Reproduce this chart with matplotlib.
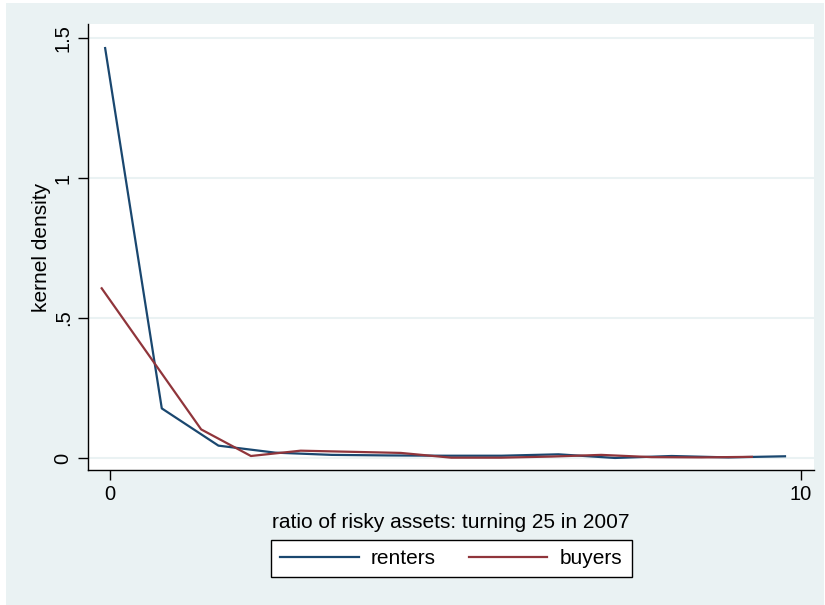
import matplotlib
matplotlib.use("Agg")
import matplotlib.pyplot as plt
from matplotlib.patches import Rectangle

plt.rcParams['font.family'] = ['Liberation Sans', 'DejaVu Sans']

# kernel density estimates of the risky-asset ratio
renters_x = [-0.07, 0.75, 1.57, 2.39, 3.21, 4.03, 4.85, 5.67, 6.49, 7.31, 8.13, 8.95, 9.77]
renters_y = [1.464, 0.177, 0.044, 0.019, 0.011, 0.009, 0.008, 0.008, 0.013, 0.000, 0.007, 0.002, 0.006]

buyers_x = [-0.12, 0.60, 1.32, 2.04, 2.76, 3.49, 4.21, 4.94, 5.66, 6.39, 7.11, 7.84, 8.56, 9.29]
buyers_y = [0.606, 0.354, 0.102, 0.007, 0.026, 0.022, 0.018, 0.001, 0.001, 0.005, 0.011, 0.003, 0.002, 0.004]

y_ticks = [0, 0.5, 1, 1.5]
y_tick_labels = ["0", ".5", "1", "1.5"]
x_ticks = [0, 10]
x_tick_labels = ["0", "10"]

BG = "#EAF2F3"
BLUE = "#1A476F"
RED = "#90353B"

W, H = 825, 605
fig = plt.figure(figsize=(W / 100, H / 100), dpi=100, facecolor="white")
fig.patches.append(Rectangle((6 / W, 0), (824 - 6) / W, (H - 3) / H,
                             transform=fig.transFigure, facecolor=BG,
                             edgecolor="none", zorder=-10))

ax = fig.add_axes([88 / W, 1 - 470 / H, (814 - 88) / W, (470 - 24) / H])
ax.set_facecolor("white")

ax.plot(renters_x, renters_y, color=BLUE, lw=1.6, label="renters")
ax.plot(buyers_x, buyers_y, color=RED, lw=1.6, label="buyers")

ax.set_xlim(-0.318, 10.19)
ax.set_ylim(-0.043, 1.55)

ax.set_yticks(y_ticks)
ax.set_yticklabels(y_tick_labels, rotation=90, va="center", fontsize=14.5)
ax.set_xticks(x_ticks)
ax.set_xticklabels(x_tick_labels, fontsize=14.5)
ax.tick_params(axis="both", direction="out", length=7, width=1, color="black",
               labelcolor="black", pad=4)

ax.grid(axis="y", color=BG, lw=1.5, zorder=0)
ax.set_axisbelow(True)

for side in ("top", "right"):
    ax.spines[side].set_visible(False)
for side in ("left", "bottom"):
    ax.spines[side].set_color("black")
    ax.spines[side].set_linewidth(1)

ax.set_ylabel("kernel density", fontsize=15, labelpad=2)
ax.set_xlabel("ratio of risky assets: turning 25 in 2007", fontsize=15, labelpad=6)

leg = fig.legend(loc="center", bbox_to_anchor=(451.5 / W, 1 - 558.5 / H), ncol=2,
                 fontsize=15, frameon=True, fancybox=False, framealpha=1,
                 handlelength=3.75, columnspacing=1.6, handletextpad=0.6,
                 borderpad=0.45, borderaxespad=0)
leg.get_frame().set_edgecolor("black")
leg.get_frame().set_linewidth(1)
leg.get_frame().set_facecolor("white")

fig.savefig("out.png", dpi=100, facecolor=fig.get_facecolor())
